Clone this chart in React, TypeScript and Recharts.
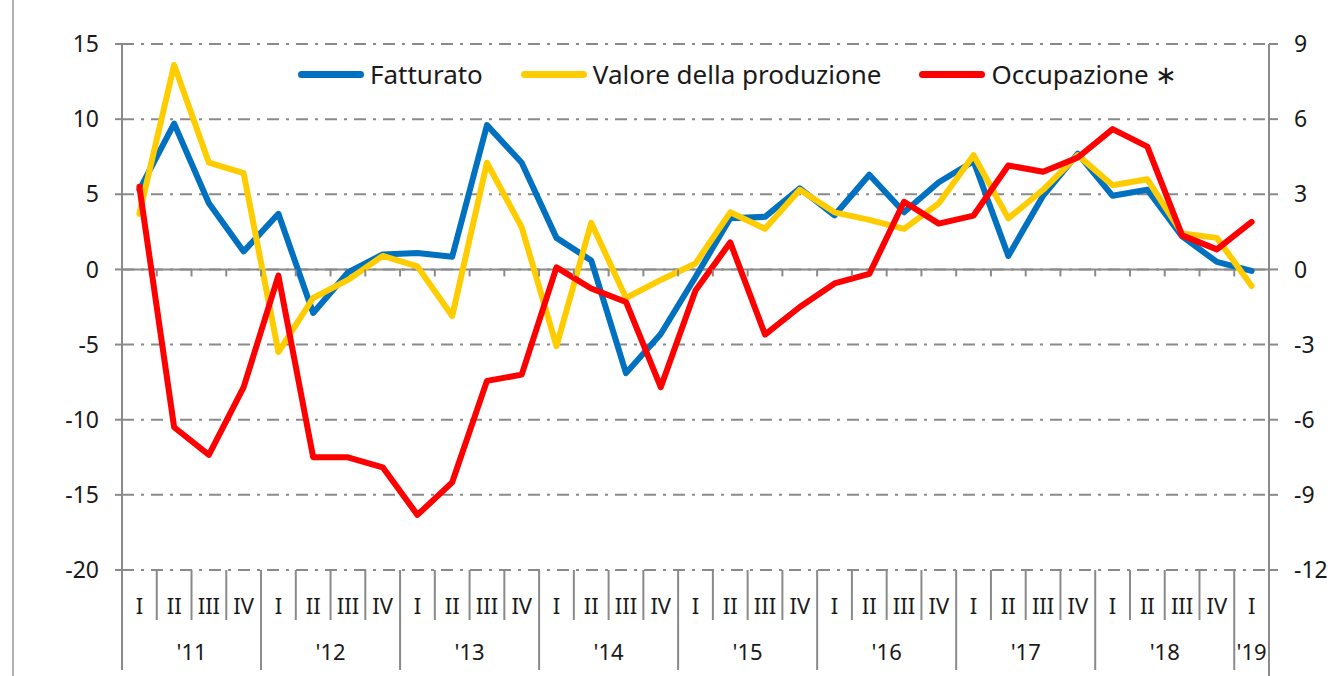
import React from 'react';
import { LineChart, Line, XAxis, YAxis, CartesianGrid, ReferenceLine } from 'recharts';

const quarterLabels = [
  'I', 'II', 'III', 'IV', 'I', 'II', 'III', 'IV', 'I', 'II', 'III', 'IV',
  'I', 'II', 'III', 'IV', 'I', 'II', 'III', 'IV', 'I', 'II', 'III', 'IV',
  'I', 'II', 'III', 'IV', 'I', 'II', 'III', 'IV', 'I',
];
const yearLabels = ["'11", "'12", "'13", "'14", "'15", "'16", "'17", "'18", "'19"];

// variazioni % (asse sinistro)
const fatturato = [
  5.3, 9.7, 4.4, 1.2, 3.7, -2.9, -0.2, 1.0, 1.1, 0.85, 9.6, 7.1,
  2.1, 0.6, -6.9, -4.3, -0.5, 3.4, 3.5, 5.4, 3.6, 6.3, 3.8, 5.8,
  7.2, 0.9, 4.9, 7.7, 4.9, 5.3, 2.2, 0.5, -0.1,
];
const valoreProduzione = [
  3.7, 13.6, 7.1, 6.4, -5.5, -1.9, -0.7, 0.9, 0.2, -3.1, 7.1, 2.8,
  -5.1, 3.1, -1.9, -0.7, 0.4, 3.8, 2.7, 5.3, 3.8, 3.3, 2.7, 4.4,
  7.6, 3.4, 5.3, 7.6, 5.6, 6.0, 2.4, 2.1, -1.1,
];
// asse destro
const occupazione = [
  3.3, -6.3, -7.4, -4.7, -0.25, -7.5, -7.5, -7.9, -9.8, -8.5, -4.45, -4.2,
  0.08, -0.76, -1.3, -4.7, -0.84, 1.08, -2.6, -1.5, -0.56, -0.18, 2.7, 1.83,
  2.15, 4.15, 3.9, 4.47, 5.6, 4.9, 1.36, 0.8, 1.9,
];

const leftTicks = [-20, -15, -10, -5, 0, 5, 10, 15];
const rightTicks = [-12, -9, -6, -3, 0, 3, 6, 9];

const data = quarterLabels.map((q, i) => ({
  q: `${q}-${i}`,
  quarter: q,
  year: yearLabels[Math.floor(i / 4)],
  fatturato: fatturato[i],
  valore: valoreProduzione[i],
  occupazione: occupazione[i],
}));

const W = 1338;
const H = 676;
const LEFT_W = 122;
const RIGHT_W = 69;
const TOP = 44;
const X_AXIS_H = 106;
const PLOT_BOTTOM = H - X_AXIS_H;
const PLOT_H = PLOT_BOTTOM - TOP;
const BAND = (W - LEFT_W - RIGHT_W) / quarterLabels.length;
const ZERO_Y = TOP + (leftTicks[leftTicks.length - 1] / (leftTicks[leftTicks.length - 1] - leftTicks[0])) * PLOT_H;

const GRAY = '#8a8a8a';
const FONT = '"Noto Sans", sans-serif';
const TEXT = '#1a1a1a';

const QuarterTick = (props: any) => {
  const { x, payload } = props;
  const i = payload.index;
  const d = data[i];
  const left = x - BAND / 2;
  const yearStart = d.quarter === 'I';
  const last = i === data.length - 1;
  const nInYear = data.filter((r) => r.year === d.year).length;
  return (
    <g>
      <line x1={left} x2={left} y1={PLOT_BOTTOM} y2={yearStart ? PLOT_BOTTOM + 100 : PLOT_BOTTOM + 50} stroke={GRAY} strokeWidth={2} />
      {i > 0 && <line x1={left} x2={left} y1={ZERO_Y} y2={ZERO_Y + 7} stroke={GRAY} strokeWidth={2} />}
      {last && <line x1={x + BAND / 2} x2={x + BAND / 2} y1={PLOT_BOTTOM} y2={H} stroke={GRAY} strokeWidth={2} />}
      <text x={x} y={PLOT_BOTTOM + 44} textAnchor="middle" fontSize={22} fill={TEXT} fontFamily={FONT}>{d.quarter}</text>
      {yearStart && (
        <text x={left + (nInYear * BAND) / 2} y={PLOT_BOTTOM + 90} textAnchor="middle" fontSize={22} fill={TEXT} fontFamily={FONT}>{d.year}</text>
      )}
    </g>
  );
};

const legendItems = [
  { label: 'Fatturato', color: '#0070C0' },
  { label: 'Valore della produzione', color: '#FFCC00' },
  { label: 'Occupazione \u2217', color: '#FF0000' },
];

export default function App() {
  return (
    <div style={{ position: 'absolute', left: 0, top: 0, width: W, height: H, background: '#fff', fontFamily: FONT }}>
      <div style={{ position: 'absolute', left: 12, top: 0, width: 2, height: H, background: '#b0b0b0' }} />
      <LineChart width={W} height={H} data={data} margin={{ top: TOP, right: 0, bottom: 0, left: 0 }}>
        <CartesianGrid yAxisId="left" vertical={false} stroke={GRAY} strokeWidth={2} strokeDasharray="12 7 3 7" />
        <XAxis dataKey="q" scale="band" height={X_AXIS_H} axisLine={false} tickLine={false} interval={0} tick={<QuarterTick />} />
        <YAxis
          yAxisId="left"
          width={LEFT_W}
          domain={[-20, 15]}
          ticks={leftTicks}
          interval={0}
          axisLine={{ stroke: GRAY, strokeWidth: 2 }}
          tickLine={{ stroke: GRAY, strokeWidth: 2 }}
          tickSize={7}
          tickMargin={16}
          tick={{ fontSize: 23, fill: TEXT, fontFamily: FONT }}
        />
        <YAxis
          yAxisId="right"
          orientation="right"
          width={RIGHT_W}
          domain={[-12, 9]}
          ticks={rightTicks}
          interval={0}
          axisLine={{ stroke: GRAY, strokeWidth: 2 }}
          tickLine={{ stroke: GRAY, strokeWidth: 2 }}
          tickSize={9}
          tickMargin={16}
          tick={{ fontSize: 23, fill: TEXT, fontFamily: FONT }}
        />
        <ReferenceLine yAxisId="left" y={0} stroke={GRAY} strokeWidth={2} />
        <Line yAxisId="left" dataKey="fatturato" stroke="#0070C0" strokeWidth={6} dot={false} strokeLinejoin="round" strokeLinecap="round" isAnimationActive={false} />
        <Line yAxisId="left" dataKey="valore" stroke="#FFCC00" strokeWidth={6} dot={false} strokeLinejoin="round" strokeLinecap="round" isAnimationActive={false} />
        <Line yAxisId="right" dataKey="occupazione" stroke="#FF0000" strokeWidth={6} dot={false} strokeLinejoin="round" strokeLinecap="round" isAnimationActive={false} />
      </LineChart>
      <div style={{ position: 'absolute', left: 298, top: 56, display: 'flex', alignItems: 'center', fontSize: 26, color: TEXT }}>
        {legendItems.map((it, k) => (
          <div key={it.label} style={{ display: 'flex', alignItems: 'center', marginRight: k < 2 ? 38 : 0 }}>
            <div style={{ width: 66, height: 7, borderRadius: 4, background: it.color, marginRight: 6 }} />
            <span style={{ whiteSpace: 'nowrap' }}>{it.label}</span>
          </div>
        ))}
      </div>
    </div>
  );
}
